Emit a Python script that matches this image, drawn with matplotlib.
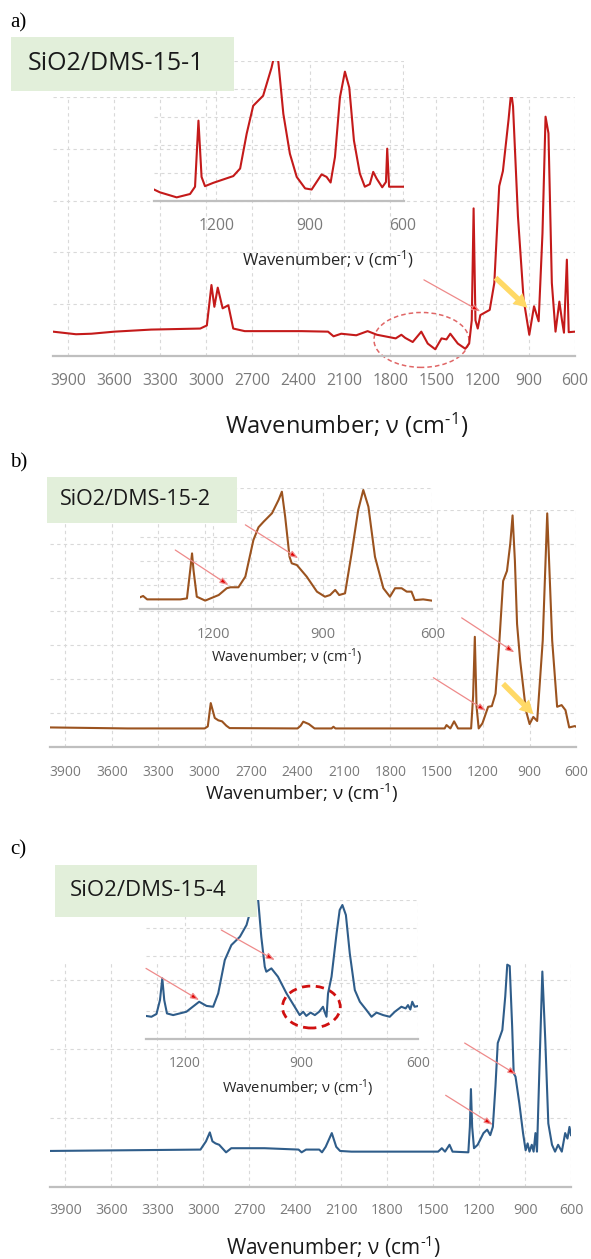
import matplotlib
matplotlib.use('Agg')
import matplotlib.pyplot as plt
from matplotlib.patches import Ellipse, Rectangle

plt.rcParams['font.family'] = ['Open Sans', 'DejaVu Sans']
plt.rcParams['mathtext.fontset'] = 'custom'
plt.rcParams['mathtext.rm'] = 'Open Sans'
plt.rcParams['mathtext.it'] = 'Open Sans:italic'

W, H = 591, 1259

# ---- spectra (wavenumber, arbitrary absorbance) ----
a_main_wn = [4000, 3850, 3750, 3600, 3360, 3040, 2997, 2967, 2948, 2926, 2894, 2857, 2825, 2750,
             2380, 2207, 2171, 2121, 2023, 1949, 1888, 1766, 1729, 1704, 1655, 1599, 1557, 1508,
             1467, 1435, 1410, 1361, 1312, 1287, 1270, 1258, 1246, 1231, 1214, 1153, 1123, 1091,
             1067, 1030, 1013, 1001, 969, 932, 895, 864, 834, 809, 789, 770, 748, 724, 699, 682,
             669, 650, 638, 597]
a_main_abs = [0.47, 0.42, 0.43, 0.47, 0.51, 0.53, 0.59, 1.37, 0.95, 1.32, 0.92, 0.98, 0.53, 0.48,
              0.48, 0.47, 0.38, 0.43, 0.40, 0.48, 0.41, 0.34, 0.41, 0.35, 0.27, 0.47, 0.24, 0.13,
              0.34, 0.32, 0.43, 0.24, 0.14, 0.24, 0.69, 2.85, 0.69, 0.53, 0.79, 0.89, 1.41, 3.28,
              3.57, 4.57, 5.1, 4.82, 2.70, 1.09, 0.41, 0.96, 0.67, 2.37, 4.62, 4.30, 1.41, 0.47,
              1.05, 0.69, 0.45, 1.86, 0.46, 0.47]

a_ins_wn = [1401, 1382, 1328, 1285, 1269, 1258, 1248, 1237, 1210, 1146, 1124, 1103, 1082, 1050,
            1023, 1012, 1004, 985, 964, 942, 915, 894, 878, 862, 846, 833, 819, 803, 787, 773,
            758, 739, 723, 707, 696, 685, 667, 655, 651, 645, 596]
a_ins_abs = [0.41, 0.31, 0.13, 0.25, 0.51, 2.87, 0.86, 0.53, 0.65, 0.89, 1.16, 2.40, 3.40, 3.76,
             4.76, 5.3, 5.3, 3.11, 1.69, 0.86, 0.45, 0.41, 0.68, 0.95, 0.86, 0.66, 1.57, 3.70,
             4.62, 4.05, 2.16, 0.98, 0.51, 0.60, 1.04, 0.80, 0.49, 0.68, 1.87, 0.51, 0.51]

b_main_wn = [4000, 3500, 3000, 2980, 2961, 2935, 2912, 2888, 2860, 2839, 2400, 2380, 2363, 2327,
             2290, 2180, 2168, 2155, 1449, 1437, 1412, 1388, 1363, 1278, 1265, 1254, 1243, 1229,
             1205, 1168, 1144, 1120, 1095, 1071, 1046, 1025, 1010, 995, 981, 961, 924, 900, 876,
             851, 815, 786, 754, 722, 693, 668, 644, 607, 600]
b_main_abs = [0.57, 0.54, 0.54, 0.60, 1.29, 0.85, 0.78, 0.75, 0.62, 0.55, 0.54, 0.62, 0.74, 0.67,
              0.54, 0.54, 0.59, 0.54, 0.54, 0.64, 0.54, 0.75, 0.54, 0.54, 1.50, 3.25, 1.20, 0.54,
              0.69, 1.18, 1.20, 1.57, 3.14, 4.90, 5.20, 6.00, 6.84, 5.50, 3.63, 2.55, 1.08, 0.67,
              0.88, 0.76, 3.14, 6.90, 3.14, 1.18, 1.23, 1.08, 0.57, 0.61, 0.59]

b_ins_wn = [1400, 1392, 1381, 1290, 1272, 1263, 1258, 1254, 1245, 1222, 1185, 1163, 1153, 1131,
            1112, 1090, 1076, 1062, 1039, 1021, 1012, 1003, 991, 985, 971, 944, 916, 894, 880,
            866, 855, 839, 821, 803, 789, 775, 757, 734, 716, 702, 684, 670, 657, 648, 625, 602]
b_ins_abs = [0.50, 0.55, 0.41, 0.41, 0.45, 1.62, 2.31, 1.62, 0.52, 0.36, 0.59, 0.87, 0.91, 0.91,
             1.35, 2.86, 3.39, 3.62, 3.97, 4.52, 4.86, 3.83, 2.17, 1.90, 1.83, 1.35, 0.73, 0.52,
             0.59, 0.80, 0.59, 0.66, 2.31, 4.10, 4.93, 4.24, 2.17, 0.87, 0.52, 0.87, 0.87, 0.73,
             0.73, 0.38, 0.41, 0.36]

c_main_wn = [4000, 3500, 3018, 2982, 2957, 2940, 2920, 2896, 2851, 2817, 2600, 2378, 2358, 2329,
             2243, 2225, 2201, 2161, 2132, 2107, 2033, 1615, 1467, 1443, 1422, 1393, 1373, 1270,
             1260, 1253, 1245, 1233, 1209, 1171, 1147, 1127, 1110, 1093, 1078, 1048, 1029, 1016,
             1000, 984, 974, 962, 937, 913, 896, 883, 871, 856, 844, 832, 822, 807, 787, 768,
             748, 724, 704, 684, 660, 638, 623, 610, 600]
c_main_abs = [0.52, 0.53, 0.54, 0.66, 0.79, 0.66, 0.63, 0.61, 0.50, 0.56, 0.56, 0.54, 0.50, 0.54,
              0.54, 0.50, 0.58, 0.78, 0.58, 0.52, 0.51, 0.51, 0.51, 0.56, 0.51, 0.61, 0.51, 0.50,
              0.87, 1.42, 0.87, 0.56, 0.61, 0.78, 0.83, 0.75, 0.87, 1.46, 2.09, 2.28, 2.77, 3.23,
              3.21, 2.33, 1.65, 1.60, 1.21, 0.78, 0.53, 0.63, 0.51, 0.61, 0.51, 0.78, 0.51, 1.65,
              3.13, 2.14, 0.92, 0.61, 0.51, 0.61, 0.51, 0.78, 0.70, 0.87, 0.75]

c_ins_wn = [1300, 1286, 1273, 1264, 1258, 1253, 1246, 1230, 1196, 1174, 1163, 1144, 1127, 1114,
            1097, 1080, 1058, 1041, 1028, 1020, 1011, 1003, 994, 990, 977, 960, 938, 917, 904,
            895, 887, 876, 865, 854, 844, 840, 835, 831, 822, 809, 801, 794, 785, 775, 762, 749,
            732, 719, 706, 689, 672, 659, 642, 631, 625, 619, 614, 608, 601]
c_ins_abs = [0.83, 0.80, 0.90, 1.40, 2.18, 1.40, 0.92, 0.86, 0.98, 1.22, 1.34, 1.19, 1.16, 1.64,
             2.84, 3.38, 3.68, 4.10, 4.76, 5.25, 5.0, 3.68, 2.60, 2.42, 2.54, 2.24, 1.64, 1.16,
             0.86, 0.98, 0.83, 0.95, 0.86, 0.98, 1.16, 0.98, 0.80, 1.64, 2.24, 3.80, 4.64, 4.82,
             4.46, 3.08, 1.76, 1.34, 1.04, 0.80, 0.95, 0.86, 0.80, 0.98, 1.16, 1.10, 1.22, 1.06,
             1.34, 1.16, 1.18]

main_ticks = [3900, 3600, 3300, 3000, 2700, 2400, 2100, 1800, 1500, 1200, 900, 600]
inset_ticks = [1200, 900, 600]
sample_names = ['SiO2/DMS-15-1', 'SiO2/DMS-15-2', 'SiO2/DMS-15-4']
panel_letters = ['a)', 'b)', 'c)']
xlabel = r'Wavenumber; ν (cm$^{\text{-1}}$)'

RED = '#C41A1A'
BROWN = '#9B531F'
BLUE = '#2F5D8A'
GRID = '#D9D9D9'


def rect(left, top, right, bottom):
    # pixel box (top-left origin) -> figure fraction
    return [left / W, 1 - bottom / H, (right - left) / W, (bottom - top) / H]


def fx(x):
    return x / W


def fy(y):
    return 1 - y / H


def style(ax, xlim, ylim, xticks, fs, pad):
    ax.set_facecolor('none')
    ax.set_xlim(xlim)
    ax.set_ylim(ylim)
    ax.set_xticks(xticks)
    ax.set_yticks(range(0, int(ylim[1]) + 1))
    ax.grid(True, ls=(0, (3, 3)), color=GRID, lw=0.8)
    ax.set_axisbelow(True)
    for s in ['top', 'right', 'left']:
        ax.spines[s].set_visible(False)
    ax.spines['bottom'].set_color('#BFBFBF')
    ax.spines['bottom'].set_linewidth(1.6)
    ax.tick_params(axis='x', length=0, labelsize=fs, labelcolor='#7A7A7A', pad=pad)
    ax.tick_params(axis='y', left=False, labelleft=False)


def thin_arrow(ax, tail, tip):
    ax.annotate('', xy=tip, xytext=tail,
                arrowprops=dict(arrowstyle='-|>,head_length=0.5,head_width=0.18',
                                ec='#EE8A8A', fc='#E00000', lw=0.9, shrinkA=0, shrinkB=0))


def yellow_arrow(ax, tail, tip):
    ax.annotate('', xy=tip, xytext=tail,
                arrowprops=dict(arrowstyle='simple,tail_width=0.28,head_width=0.75,head_length=0.7',
                                fc='#FFD966', ec='none', mutation_scale=14, shrinkA=0, shrinkB=0))


def green_box(fig, left, top, right, bottom, text, fs, tx):
    fig.add_artist(Rectangle((fx(left), fy(bottom)), (right - left) / W, (bottom - top) / H,
                             transform=fig.transFigure, fc='#E2EFDA', ec='none', zorder=5))
    fig.text(fx(tx), fy((top + bottom) / 2), text, fontsize=fs, color='#1A1A1A',
             ha='left', va='center', zorder=6)


fig = plt.figure(figsize=(W / 100, H / 100), dpi=100)

# ---------------- panel a ----------------
ax = fig.add_axes(rect(53, 97, 575, 356))
ax.plot(a_main_wn, a_main_abs, color=RED, lw=1.5)
style(ax, (4000, 597), (0, 5), main_ticks, 11.3, 12.5)
ax.add_patch(Ellipse((1598, 0.31), 619, 1.06, fill=False, ls=(0, (3, 2)), ec='#E06666',
                     lw=1.1, clip_on=False))
thin_arrow(ax, (1582, 1.47), (1214, 0.86))
yellow_arrow(ax, (1115, 1.51), (907, 0.93))

ins = fig.add_axes(rect(154.3, 61, 404, 201))
ins.plot(a_ins_wn, a_ins_abs, color=RED, lw=1.5)
style(ins, (1400, 597), (0, 5), inset_ticks, 11.3, 12.5)

green_box(fig, 10.5, 37, 234, 91, sample_names[0], 18, 28)
fig.text(fx(10), fy(23), panel_letters[0], family='Liberation Serif', fontsize=15, va='center')
fig.text(fx(328), fy(259), xlabel, fontsize=12, ha='center', va='center', color='#262626')
fig.text(fx(347), fy(425), xlabel, fontsize=17, ha='center', va='center', color='#1A1A1A')

# ---------------- panel b ----------------
ax = fig.add_axes(rect(50, 510, 576, 746.7))
ax.plot(b_main_wn, b_main_abs, color=BROWN, lw=1.5)
style(ax, (4000, 600), (0, 7), main_ticks, 10, 13.5)
thin_arrow(ax, (1522, 2.04), (1181, 1.06))
thin_arrow(ax, (1339, 3.81), (998, 2.79))
yellow_arrow(ax, (1071, 1.86), (875, 0.96))

ins = fig.add_axes(rect(140.2, 488.3, 432.3, 609.3))
ins.plot(b_ins_wn, b_ins_abs, color=BROWN, lw=1.5)
style(ins, (1400, 600), (0, 5), inset_ticks, 10.5, 12.7)
thin_arrow(ins, (1304, 2.45), (1158, 1.0))
thin_arrow(ins, (1112, 3.49), (967, 2.11))

green_box(fig, 47, 477, 237, 523, sample_names[1], 15.5, 60)
fig.text(fx(10), fy(463), panel_letters[1], family='Liberation Serif', fontsize=15, va='center')
fig.text(fx(286.5), fy(656.7), xlabel, fontsize=10.5, ha='center', va='center', color='#262626')
fig.text(fx(302), fy(793), xlabel, fontsize=13.5, ha='center', va='center', color='#1A1A1A')

# ---------------- panel c ----------------
ax = fig.add_axes(rect(50, 963.3, 571, 1186.7))
ax.plot(c_main_wn, c_main_abs, color=BLUE, lw=1.5)
style(ax, (4000, 600), (0, 3.25), main_ticks, 10.3, 11.4)
thin_arrow(ax, (1418, 1.33), (1110, 0.90))
thin_arrow(ax, (1294, 2.09), (955, 1.63))

ins = fig.add_axes(rect(146, 900, 417.7, 1039))
ins.plot(c_ins_wn, c_ins_abs, color=BLUE, lw=1.5)
style(ins, (1300, 600), (0, 5), inset_ticks, 10, 12.3)
thin_arrow(ins, (1300, 2.54), (1163, 1.40))
thin_arrow(ins, (1106, 3.92), (968, 2.84))
ins.add_patch(Ellipse((874, 1.15), 149, 1.51, fill=False, ls=(0, (3, 2)), ec='#D01010',
                      lw=2.0, clip_on=False))

green_box(fig, 54.8, 865, 256.8, 916.7, sample_names[2], 16, 70)
fig.text(fx(10), fy(850), panel_letters[2], family='Liberation Serif', fontsize=15, va='center')
fig.text(fx(297.5), fy(1088.3), xlabel, fontsize=10.5, ha='center', va='center', color='#262626')
fig.text(fx(334), fy(1246.7), xlabel, fontsize=15, ha='center', va='center', color='#1A1A1A')

fig.savefig('out.png', dpi=100)
